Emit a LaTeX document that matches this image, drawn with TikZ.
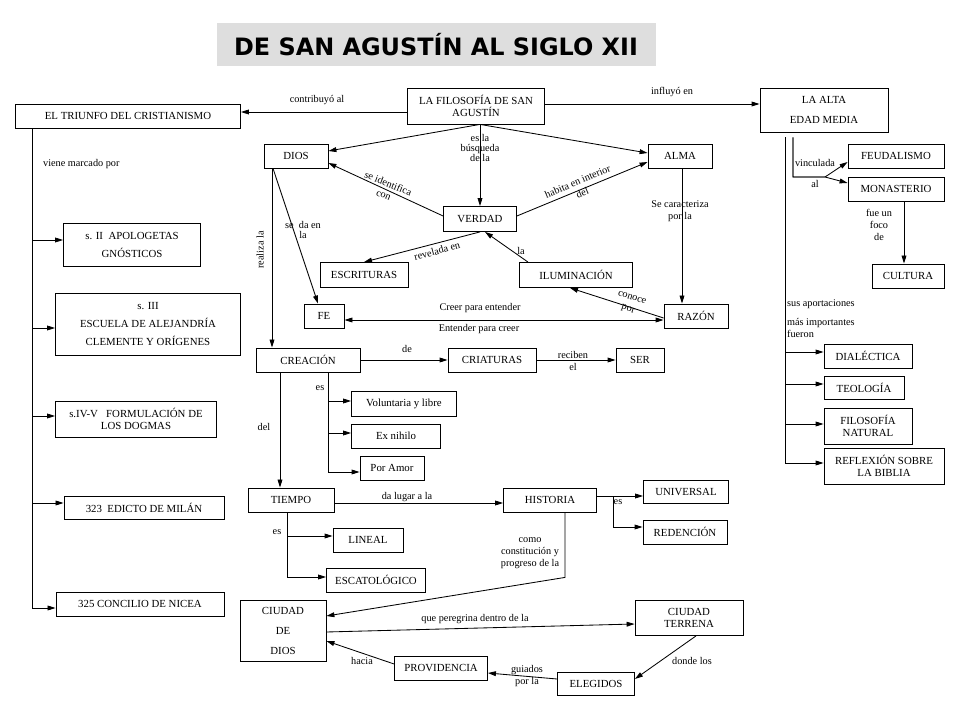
\documentclass[tikz,border=0pt]{standalone}
\usepackage{fontspec}
\setmainfont{Liberation Serif}
\newfontfamily\titlefont{DejaVu Sans}
\usetikzlibrary{arrows.meta}

\begin{document}
\begin{tikzpicture}[
  x=0.025cm, y=-0.025cm,
  >={Triangle[length=2mm, width=1.2mm]},
  line width=0.6pt,
  box/.style={draw, align=center, inner sep=1pt, font=\fontsize{7.7}{9}\selectfont},
  lbl/.style={align=center, inner sep=0.5pt, font=\fontsize{7.3}{8.6}\selectfont},
  tight/.style={font=\fontsize{7.3}{7.2}\selectfont},
  sz/.style 2 args={minimum width=#1*0.025cm, minimum height=#2*0.025cm},
]
\useasboundingbox (0,0) rectangle (960,720);

\node (title) [fill=black!13, sz={439}{43}, font=\titlefont\bfseries\fontsize{17}{20}\selectfont] at (436,45) {DE SAN AGUSTÍN AL SIGLO XII};

% centre
\node (filo) [box, sz={137}{36}] at (476,106) {LA FILOSOFÍA DE SAN\\AGUSTÍN};
\node (triunfo) [box, sz={225}{24}] at (128,116) {EL TRIUNFO DEL CRISTIANISMO};
\node (alta) [box, sz={128}{44}] at (824,110) {LA ALTA\\[5pt]EDAD MEDIA};
\node (dios) [box, sz={64}{24}] at (296,156) {DIOS};
\node (alma) [box, sz={64}{24}] at (680,156) {ALMA};
\node (verdad) [box, sz={73}{25}] at (480,219) {VERDAD};
\node (escrituras) [box, sz={88}{25}] at (364,275) {ESCRITURAS};
\node (ilum) [box, sz={113}{25}] at (576,275) {ILUMINACIÓN};
\node (fe) [box, sz={40}{24}] at (324,316) {FE};
\node (razon) [box, sz={64}{24}] at (696,316) {RAZÓN};
\node (creacion) [box, sz={104}{24}] at (308,360) {CREACIÓN};
\node (criaturas) [box, sz={88}{24}] at (492,360) {CRIATURAS};
\node (ser) [box, sz={48}{24}] at (640,360) {SER};
\node (voluntaria) [box, sz={105}{25}] at (404,404) {Voluntaria y libre};
\node (nihilo) [box, sz={89}{24}] at (396,436) {Ex nihilo};
\node (amor) [box, sz={64}{24}] at (392,468) {Por Amor};
\node (tiempo) [box, sz={86}{24}] at (291,500) {TIEMPO};
\node (historia) [box, sz={93}{24}] at (550,500) {HISTORIA};
\node (universal) [box, sz={85}{23}] at (686,492) {UNIVERSAL};
\node (redencion) [box, sz={84}{24}] at (685,532) {REDENCIÓN};
\node (lineal) [box, sz={70}{24}] at (368,540) {LINEAL};
\node (escato) [box, sz={99}{24}] at (376,580) {ESCATOLÓGICO};
\node (cdios) [box, sz={86}{61}] at (283,631) {CIUDAD\\[5pt]DE\\[5pt]DIOS};
\node (terrena) [box, sz={108}{35}] at (689,618) {CIUDAD\\TERRENA};
\node (providencia) [box, sz={93}{24}] at (441,668) {PROVIDENCIA};
\node (elegidos) [box, sz={77}{23}] at (596,684) {ELEGIDOS};

% right column
\node (feudalismo) [box, sz={96}{24}] at (896,156) {FEUDALISMO};
\node (monasterio) [box, sz={96}{24}] at (896,189) {MONASTERIO};
\node (cultura) [box, sz={72}{24}] at (908,276) {CULTURA};
\node (dialectica) [box, sz={88}{24}] at (868,356) {DIALÉCTICA};
\node (teologia) [box, sz={80}{23}] at (864,388) {TEOLOGÍA};
\node (filnat) [box, sz={88}{36}] at (868,426) {FILOSOFÍA\\NATURAL};
\node (reflexion) [box, sz={120}{36}] at (884,466) {REFLEXIÓN SOBRE\\LA BIBLIA};

% left column
\node (apologetas) [box, sz={137}{43}] at (132,245) {s. II\ \ APOLOGETAS\\[4pt]GNÓSTICOS};
\node (escuela) [box, sz={185}{62}] at (148,324) {s. III\\[4pt]ESCUELA DE ALEJANDRÍA\\[4pt]CLEMENTE Y ORÍGENES};
\node (dogmas) [box, sz={161}{36}] at (136,419) {s.IV-V\ \ \ FORMULACIÓN DE\\LOS DOGMAS};
\node (edicto) [box, sz={160}{23}] at (144,508) {323\ \ EDICTO DE MILÁN};
\node (nicea) [box, sz={168}{24}] at (140,604) {325 CONCILIO DE NICEA};

% connectors
\draw[->] (filo.west |- 0,112) -- (triunfo.east |- 0,112);
\draw[->] (filo.east |- 0,104) -- (alta.west |- 0,104);
\draw[->] (verdad.north |- filo.south) -- (verdad.north);
\draw[->] (verdad.north |- filo.south) -- (dios.east |- 0,151);
\draw[->] (verdad.north |- filo.south) -- (alma.west |- 0,153);
\draw[->] (verdad.west |- 0,216) -- (dios.east |- 0,163);
\draw[->] (verdad.east |- 0,216) -- (alma.west |- 0,162);
\draw[->] (verdad.south) -- (escrituras.north);
\draw[->] (ilum.north -| 528,0) -- (verdad.south -| 485,0);
\draw[->] (dios.south -| 273,0) -- (fe.north -| 318,0);
\draw[->] (dios.south -| 272,0) -- (creacion.north -| 272,0);
\draw[->] (alma.south -| 682,0) -- (razon.north -| 682,0);
\draw[->] (razon.west |- 0,318) -- (ilum.south -| 570,0);
\draw[<->] (fe.east |- 0,320) -- (razon.west |- 0,320);
\draw[->] (creacion) -- (criaturas);
\draw[->] (criaturas) -- (ser);
\draw[->] (creacion.south -| 328,0) |- (voluntaria.west |- 0,401);
\draw[->] (creacion.south -| 328,0) |- (nihilo.west |- 0,433);
\draw[->] (creacion.south -| 328,0) |- (amor.west |- 0,472);
\draw[->] (creacion.south -| 280,0) -- (tiempo.north -| 280,0);
\draw[->] (tiempo.east |- 0,503) -- (historia.west |- 0,503);
\draw[->] (tiempo.south -| 287,0) |- (lineal.west |- 0,536);
\draw[->] (tiempo.south -| 287,0) |- (escato.west |- 0,577);
\draw[->] (historia.east |- 0,496) -- (universal.west |- 0,496);
\draw[->] (historia.east |- 0,496) -- ++(16,0) |- (redencion.west |- 0,527);
\draw[->] (historia.south -| 565,0) -- ++(0,65) -- (cdios.east |- 0,616);
\draw[->] (cdios.east |- 0,632) -- (terrena.west |- 0,624);
\draw[->] (terrena.south -| 696,0) -- (elegidos.east |- 0,679);
\draw[->] (elegidos.west |- 0,679) -- (providencia.east |- 0,673);
\draw[->] (providencia.west |- 0,664) -- (cdios.east |- 0,641);
\draw[->] (alta.south -| 793,0) ++(0,5) |- (825,177) -- (feudalismo.west |- 0,162);
\draw[->] (alta.south -| 793,0) ++(0,5) |- (825,177) -- (monasterio.west |- 0,183);
\draw[->] (monasterio.south -| 904,0) -- (cultura.north -| 904,0);
\draw[->] (alta.south -| 785,0) ++(0,5) |- (dialectica.west |- 0,352);
\draw[->] (alta.south -| 785,0) ++(0,5) |- (teologia.west |- 0,384);
\draw[->] (alta.south -| 785,0) ++(0,5) |- (filnat.west |- 0,424);
\draw[->] (alta.south -| 785,0) ++(0,5) |- (reflexion.west |- 0,463);
\draw[->] (triunfo.south -| 32,0) |- (apologetas.west |- 0,240);
\draw[->] (triunfo.south -| 32,0) |- (escuela.west |- 0,328);
\draw[->] (triunfo.south -| 32,0) |- (dogmas.west |- 0,416);
\draw[->] (triunfo.south -| 32,0) |- (edicto.west |- 0,503);
\draw[->] (triunfo.south -| 32,0) |- (nicea.west |- 0,608);

% labels
\node (lcontrib) [lbl] at (317,100) {contribuyó al};
\node (linflu) [lbl] at (672,92) {influyó en};
\node (lbusq) [lbl, tight] at (480,148) {es la\\búsqueda\\de la};
\node (lident) [lbl, rotate=-22] at (386,189) {se identifica\\con};
\node (lhabita) [lbl, rotate=23] at (580,187) {habita en interior\\del};
\node (lrevel) [lbl, rotate=15] at (437,251) {revelada en};
\node (lla) [lbl] at (521,251) {la};
\node (lseda) [lbl, tight] at (303,230) {se\ \ da en\\la};
\node (lrealiza) [lbl, rotate=90] at (260,250) {realiza la};
\node (lcaract) [lbl] at (680,211) {Se caracteriza\\por la};
\node (lconoce) [lbl, rotate=-18] at (630,304) {conoce\\por};
\node (lcreer) [lbl] at (480,308) {Creer para entender};
\node (lenten) [lbl] at (479,329) {Entender para creer};
\node (lde) [lbl] at (407,349) {de};
\node (lreciben) [lbl] at (573,361) {reciben\\el};
\node (les1) [lbl] at (320,388) {es};
\node (ldel) [lbl] at (264,427) {del};
\node (llugar) [lbl] at (407,497) {da lugar a la};
\node (les2) [lbl] at (277,532) {es};
\node (les3) [lbl] at (618,502) {es};
\node (lcomo) [lbl] at (530,553) {como\\constitución y\\progreso de la};
\node (lperegr) [lbl] at (475,619) {que peregrina dentro de la};
\node (ldonde) [lbl] at (692,661) {donde los};
\node (lguiados) [lbl] at (527,676) {guiados\\por la};
\node (lhacia) [lbl] at (362,661) {hacia};
\node (lvinc) [lbl] at (815,163) {vinculada};
\node (lal) [lbl] at (815,184) {al};
\node (lfoco) [lbl] at (879,225) {fue un\\foco\\de};
\node (lapor) [lbl, anchor=west] at (786,304) {sus aportaciones};
\node (limport) [lbl, anchor=west, align=left] at (786,328) {más importantes\\fueron};
\node (lviene) [lbl, anchor=west] at (42,164) {viene marcado por};
\end{tikzpicture}
\end{document}
